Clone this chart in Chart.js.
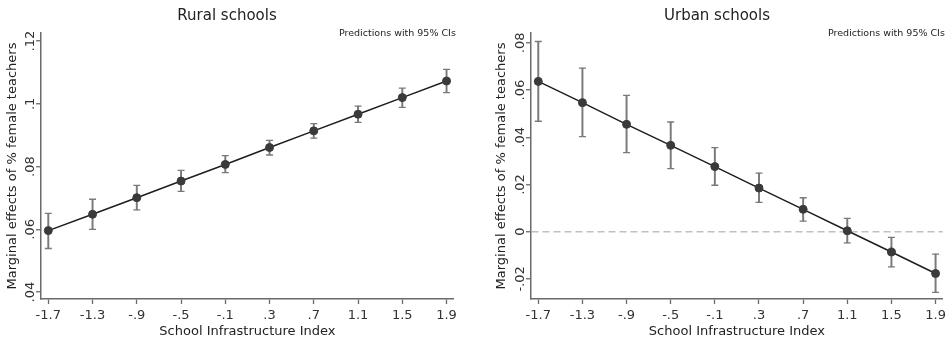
<!DOCTYPE html>
<html>
<head>
<meta charset="utf-8">
<script src="https://cdn.jsdelivr.net/npm/chart.js@4.4.0/dist/chart.umd.min.js"></script>
<style>
  body { margin: 0; background: #fff; }
  .panel { position: absolute; top: 0; width: 461px; height: 343px; }
</style>
</head>
<body>
<div class="panel" style="left:0"><canvas id="rural" width="461" height="343"></canvas></div>
<div class="panel" style="left:489px"><canvas id="urban" width="461" height="343"></canvas></div>
<script>
// x positions (School Infrastructure Index) and Stata-style labels
const xValues = [-1.7, -1.3, -0.9, -0.5, -0.1, 0.3, 0.7, 1.1, 1.5, 1.9];
const xTickLabels = ['-1.7', '-1.3', '-.9', '-.5', '-.1', '.3', '.7', '1.1', '1.5', '1.9'];

// Rural schools: marginal effect + 95% CI
const ruralEstimate = [0.0596, 0.0648, 0.0701, 0.0754, 0.0807, 0.0861, 0.0914, 0.0967, 0.1020, 0.1073];
const ruralLower    = [0.0539, 0.0600, 0.0662, 0.0721, 0.0781, 0.0837, 0.0891, 0.0941, 0.0989, 0.1036];
const ruralUpper    = [0.0651, 0.0696, 0.0740, 0.0788, 0.0835, 0.0884, 0.0937, 0.0993, 0.1050, 0.1110];
const ruralYTicks = [0.04, 0.06, 0.08, 0.1, 0.12];
const ruralYTickLabels = ['.04', '.06', '.08', '.1', '.12'];

// Urban schools
const urbanEstimate = [0.0637, 0.0547, 0.0455, 0.0366, 0.0276, 0.0185, 0.0095, 0.0004, -0.0086, -0.0177];
const urbanLower    = [0.0468, 0.0403, 0.0335, 0.0267, 0.0197, 0.0124, 0.0045, -0.0047, -0.0149, -0.0257];
const urbanUpper    = [0.0806, 0.0693, 0.0578, 0.0465, 0.0356, 0.0248, 0.0144, 0.0057, -0.0024, -0.0095];
const urbanYTicks = [-0.02, 0, 0.02, 0.04, 0.06, 0.08];
const urbanYTickLabels = ['-.02', '0', '.02', '.04', '.06', '.08'];

const FONT = '"DejaVu Sans", Verdana, sans-serif';
const ciColor = '#7a7a7a';
const axisColor = '#6a6a6a';

// rotated y tick labels (Stata style) + the little note in the corner
const stataExtras = {
    id: 'stataExtras',
    afterDraw(chart, args, opts) {
        const ctx = chart.ctx;
        const scale = chart.scales.y;
        ctx.save();
        ctx.fillStyle = '#333';
        ctx.font = '13px ' + FONT;
        ctx.textAlign = 'center';
        ctx.textBaseline = 'middle';
        scale.ticks.forEach((t) => {
            const y = scale.getPixelForValue(t.value);
            ctx.save();
            ctx.translate(scale.right - 10, y);
            ctx.rotate(-Math.PI / 2);
            ctx.fillText(t.label, 0, 0);
            ctx.restore();
        });
        ctx.font = '9.5px ' + FONT;
        ctx.fillStyle = '#222';
        ctx.textAlign = 'right';
        ctx.fillText(opts.note, chart.chartArea.right + 2, chart.chartArea.top + 1);
        ctx.restore();
    }
};

function makeChart(id, title, est, lo, hi, yMin, yMax, yTicks, yLabels, axisWidth, padRight) {
    const points = xValues.map((x, i) => ({ x: x, y: est[i] }));
    const bars = xValues.map((x, i) => ({ x: x, y: [lo[i], hi[i]] }));
    const caps = [];
    xValues.forEach((x, i) => {
        caps.push({ x: x, y: lo[i] });
        caps.push({ x: x, y: hi[i] });
    });

    return new Chart(document.getElementById(id), {
        type: 'line',
        data: {
            datasets: [{
                type: 'line',
                data: points,
                borderColor: '#1e1e1e',
                borderWidth: 1.5,
                pointRadius: 4,
                pointBackgroundColor: '#3a3a3a',
                pointBorderColor: '#3a3a3a',
                pointBorderWidth: 1,
                tension: 0,
                order: 0
            }, {
                type: 'line',
                data: caps,
                showLine: false,
                pointStyle: 'line',
                pointRadius: 3.5,
                borderColor: ciColor,
                pointBorderColor: ciColor,
                pointBorderWidth: 1.3,
                order: 1
            }, {
                type: 'bar',
                data: bars,
                backgroundColor: ciColor,
                borderWidth: 0,
                barThickness: 1.3,
                order: 2
            }]
        },
        options: {
            responsive: false,
            animation: false,
            events: [],
            layout: { padding: { left: 0, right: padRight, top: 0, bottom: 0 } },
            plugins: {
                legend: { display: false },
                tooltip: { enabled: false },
                title: {
                    display: true,
                    text: title,
                    color: '#222',
                    font: { family: FONT, size: 15, weight: 'normal', lineHeight: 1.2 },
                    padding: { top: 7, bottom: 8 }
                },
                stataExtras: { note: 'Predictions with 95% CIs' }
            },
            scales: {
                x: {
                    type: 'linear',
                    min: -1.766,
                    max: 1.966,
                    offset: false,
                    afterBuildTicks: (scale) => {
                        scale.ticks = xValues.map((v) => ({ value: v }));
                    },
                    afterFit: (scale) => { scale.height = 44; },
                    ticks: {
                        autoSkip: false,
                        maxRotation: 0,
                        color: '#333',
                        padding: 4,
                        font: { family: FONT, size: 13 },
                        callback: (value, index) => xTickLabels[index]
                    },
                    grid: { offset: false, drawOnChartArea: false, tickLength: 5, tickColor: axisColor, tickWidth: 1.3 },
                    border: { color: axisColor, width: 1.5 },
                    title: {
                        display: true,
                        text: 'School Infrastructure Index',
                        color: '#222',
                        font: { family: FONT, size: 13 },
                        padding: { top: 0, bottom: 4 }
                    }
                },
                y: {
                    type: 'linear',
                    min: yMin,
                    max: yMax,
                    afterBuildTicks: (scale) => {
                        scale.ticks = yTicks.map((v) => ({ value: v }));
                    },
                    afterFit: (scale) => { scale.width = axisWidth; },
                    ticks: {
                        display: false,
                        callback: (value, index) => yLabels[index]
                    },
                    grid: {
                        color: (c) => (c.tick && c.tick.value === 0 ? '#c0c0c0' : 'rgba(0,0,0,0)'),
                        lineWidth: 1.5,
                        tickLength: 5,
                        tickColor: axisColor,
                        tickWidth: 1.3
                    },
                    border: { color: axisColor, width: 1.5, dash: [7, 4] },
                    title: {
                        display: true,
                        text: 'Marginal effects of % female teachers',
                        color: '#222',
                        font: { family: FONT, size: 13 },
                        padding: { top: 5, bottom: 0 }
                    }
                }
            }
        },
        plugins: [stataExtras]
    });
}

makeChart('rural', 'Rural schools', ruralEstimate, ruralLower, ruralUpper,
    0.0378, 0.1226, ruralYTicks, ruralYTickLabels, 41, 7);
makeChart('urban', 'Urban schools', urbanEstimate, urbanLower, urbanUpper,
    -0.0285, 0.0842, urbanYTicks, urbanYTickLabels, 42, 5);
</script>
</body>
</html>
